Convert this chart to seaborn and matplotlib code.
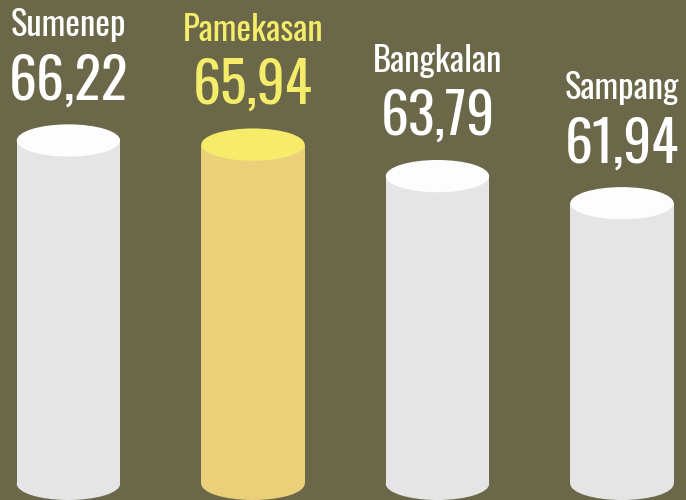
import matplotlib
matplotlib.use('Agg')
import seaborn as sns
import matplotlib.pyplot as plt
from matplotlib.patches import Ellipse

# data
regions = ['Sumenep', 'Pamekasan', 'Bangkalan', 'Sampang']
values = [66.22, 65.94, 63.79, 61.94]
value_labels = ['66,22', '65,94', '63,79', '61,94']
highlight = 'Pamekasan'

# colours
bg = '#6b6849'
body = {r: ('#ebd07a' if r == highlight else '#e5e5e5') for r in regions}
top = {r: ('#f7ec6a' if r == highlight else '#fdfdfd') for r in regions}
text_col = {r: ('#f5ec6a' if r == highlight else '#ffffff') for r in regions}

sns.set_theme(style='white')
plt.rcParams['font.family'] = ['Oswald', 'DejaVu Sans']

fig = plt.figure(figsize=(6.86, 5.0), dpi=100, facecolor=bg)
ax = fig.add_axes([0, 0, 1, 1])
ax.set_facecolor(bg)

bar_w = 0.56
base = 42.8
ell_h = 2.2

sns.barplot(x=regions, y=values, hue=regions, palette=body, legend=False,
            width=bar_w, linewidth=0, saturation=1, ax=ax)

# cut the bars to a cylinder shape
for p, r, v, lab in zip(ax.patches, regions, values, value_labels):
    p.set_y(base)
    p.set_height(v - base)
    cx = p.get_x() + p.get_width() / 2
    ax.add_patch(Ellipse((cx, base), p.get_width(), ell_h, color=body[r], lw=0))
    ax.add_patch(Ellipse((cx, v), p.get_width(), ell_h, color=top[r], lw=0, zorder=3))
    ax.annotate(lab, (cx, v), xytext=(0, 41), textcoords='offset pixels',
                ha='center', va='baseline', fontsize=40, fontweight='light',
                color=text_col[r])
    ax.annotate(r, (cx, v), xytext=(0, 104), textcoords='offset pixels',
                ha='center', va='baseline', fontsize=25, fontweight='light',
                color=text_col[r])

ax.set_xlim(-0.371, 3.347)
ax.set_ylim(41.7, 75.8)
ax.axis('off')

fig.savefig('out.png', dpi=100, facecolor=bg)
